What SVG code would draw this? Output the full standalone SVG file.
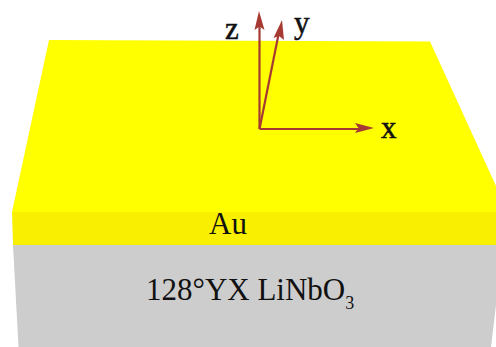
<svg xmlns="http://www.w3.org/2000/svg" width="496" height="347" viewBox="0 0 496 347">
<style>
text{font-family:"Liberation Serif","Times New Roman",serif;fill:#111}
.ax{stroke:#a63a32;stroke-width:2.200;fill:none}
.ah{fill:#a63a32}
.lab{font-size:31px;stroke:#111;stroke-width:.5}
</style>
<rect width="496" height="347" fill="#fff"/>
<g id="substrate"><path d="M13 245H496V305L491 347H18.500Z" fill="#cdcdcd"/></g>
<g id="gold-side"><path d="M12 212H496V245H13Z" fill="#f8f000"/></g>
<g id="gold-top"><path d="M49 40L430 41.500L496 186V212H12Z" fill="#ffff00"/></g>
<g id="connectors">
<path class="ax" d="M259.500 129V24"/><path class="ah" d="M259 11L264.500 30L259.500 26.500L254.500 30Z"/>
<path class="ax" d="M259.500 129L279 32"/><path class="ah" d="M282 20L284 40L279 36L273.500 38Z"/>
<path class="ax" d="M259.500 129H362"/><path class="ah" d="M374 128L355 133L358.500 128L355 123Z"/>
</g>
<g id="label-z"><text class="lab" x="225" y="39">z</text></g>
<g id="label-y"><text class="lab" x="294" y="33">y</text></g>
<g id="label-x"><text class="lab" x="381" y="138">x</text></g>
<g id="label-au"><text x="209" y="234" font-size="31">Au</text></g>
<g id="label-linbo3"><text x="146" y="300" font-size="31">128°YX LiNbO<tspan font-size="18" dy="9">3</tspan></text></g>
</svg>
